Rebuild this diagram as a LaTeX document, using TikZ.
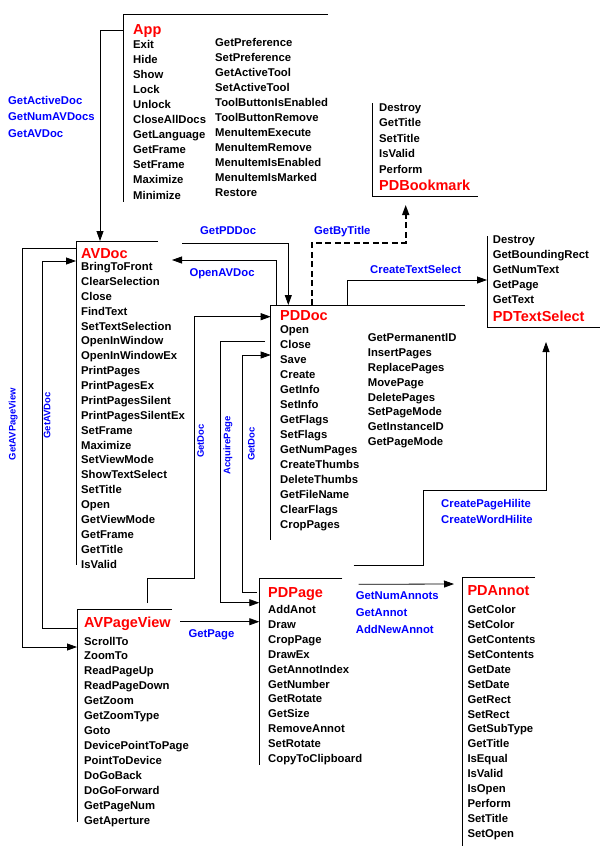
\documentclass[tikz,border=0pt]{standalone}
\usepackage{fontspec}
\setmainfont{Liberation Sans}
\usetikzlibrary{arrows.meta,positioning}

\begin{document}
\begin{tikzpicture}[
    x=1pt, y=-1pt,
    cls/.style={inner sep=0pt, outer sep=0pt, anchor=north west},
    title/.style={anchor=base west, inner sep=0pt, text=red, font=\fontsize{14.5}{16}\selectfont\bfseries},
    item/.style={anchor=base west, inner sep=0pt, font=\fontsize{11.3}{15}\selectfont\bfseries},
    call/.style={anchor=base west, inner sep=0pt, text=blue, font=\fontsize{11.3}{15}\selectfont\bfseries},
    vcall/.style={rotate=90, inner sep=0pt, text=blue, font=\fontsize{9.5}{11}\selectfont\bfseries},
    wire/.style={line width=0.8pt},
    arrow/.style={wire, -{Triangle[length=10pt,width=7pt]}},
    weak/.style={arrow, line width=1.6pt, dash pattern=on 6pt off 3.5pt}
  ]
    \path[use as bounding box] (0,0) rectangle (600,846);

    % class frames
    \node[cls, minimum width=205pt, minimum height=188pt] (app) at (123,14) {};
    \node[cls, minimum width=106pt, minimum height=93pt] (pdbookmark) at (372,103) {};
    \node[cls, minimum width=82pt, minimum height=324pt] (avdoc) at (76,241) {};
    \node[cls, minimum width=113pt, minimum height=91pt] (pdtextselect) at (487,236) {};
    \node[cls, minimum width=194pt, minimum height=235pt] (pddoc) at (270.7,305) {};
    \node[cls, minimum width=95pt, minimum height=213pt] (avpageview) at (77,609) {};
    \node[cls, minimum width=83pt, minimum height=187pt] (pdpage) at (259.3,578) {};
    \node[cls, minimum width=73pt, minimum height=269pt] (pdannot) at (462,577) {};

    \draw[wire] (app.north east) -- (app.north west) -- (app.south west);
    \draw[wire] (pdbookmark.north west) -- (pdbookmark.south west) -- (pdbookmark.south east);
    \draw[wire] (avdoc.north east) -- (avdoc.north west) -- (avdoc.south west);
    \draw[wire] (pdtextselect.north west) -- (pdtextselect.south west) -- (pdtextselect.south east);
    \draw[wire] (pddoc.north east) -- (pddoc.north west) -- (pddoc.south west);
    \draw[wire] (avpageview.north east) -- (avpageview.north west) -- (avpageview.south west);
    \draw[wire] (pdpage.north east) -- (pdpage.north west) -- (pdpage.south west);
    \draw[wire] (pdannot.north east) -- (pdannot.north west) -- (pdannot.south west);

    % class names
    \node[title] (app-name) at (133,34) {App};
    \node[title] (pdbookmark-name) at (379,190.5) {PDBookmark};
    \node[title] (avdoc-name) at (81,258.8) {AVDoc};
    \node[title] (pdtextselect-name) at (492.7,321.5) {PDTextSelect};
    \node[title] (pddoc-name) at (280,320.5) {PDDoc};
    \node[title] (avpageview-name) at (84,627.2) {AVPageView};
    \node[title] (pdpage-name) at (268,597.2) {PDPage};
    \node[title] (pdannot-name) at (467.3,595.5) {PDAnnot};

    % methods
    \foreach \m [count=\i] in {Exit,Hide,Show,Lock,Unlock,CloseAllDocs,GetLanguage,GetFrame,SetFrame,Maximize,Minimize}
      \node[item] (app-a\i) at (133,{48.5+(\i-1)*15.05}) {\m};
    \foreach \m [count=\i] in {GetPreference,SetPreference,GetActiveTool,SetActiveTool,ToolButtonIsEnabled,ToolButtonRemove,MenuItemExecute,MenuItemRemove,MenuItemIsEnabled,MenuItemIsMarked,Restore}
      \node[item] (app-b\i) at (215,{46+(\i-1)*15}) {\m};
    \foreach \m [count=\i] in {Destroy,GetTitle,SetTitle,IsValid,Perform}
      \node[item] (pdbookmark-\i) at (379,{111+(\i-1)*15.6}) {\m};
    \foreach \m [count=\i] in {Destroy,GetBoundingRect,GetNumText,GetPage,GetText}
      \node[item] (pdtextselect-\i) at (492.7,{243.3+(\i-1)*15}) {\m};
    \foreach \m [count=\i] in {BringToFront,ClearSelection,Close,FindText,SetTextSelection,OpenInWindow,OpenInWindowEx,PrintPages,PrintPagesEx,PrintPagesSilent,PrintPagesSilentEx,SetFrame,Maximize,SetViewMode,ShowTextSelect,SetTitle,Open,GetViewMode,GetFrame,GetTitle,IsValid}
      \node[item] (avdoc-\i) at (81,{270.6+(\i-1)*14.87}) {\m};
    \foreach \m [count=\i] in {Open,Close,Save,Create,GetInfo,SetInfo,GetFlags,SetFlags,GetNumPages,CreateThumbs,DeleteThumbs,GetFileName,ClearFlags,CropPages}
      \node[item] (pddoc-a\i) at (280,{333.3+(\i-1)*15.03}) {\m};
    \foreach \m [count=\i] in {GetPermanentID,InsertPages,ReplacePages,MovePage,DeletePages,SetPageMode,GetInstanceID,GetPageMode}
      \node[item] (pddoc-b\i) at (367.7,{341.6+(\i-1)*14.85}) {\m};
    \foreach \m [count=\i] in {ScrollTo,ZoomTo,ReadPageUp,ReadPageDown,GetZoom,GetZoomType,Goto,DevicePointToPage,PointToDevice,DoGoBack,DoGoForward,GetPageNum,GetAperture}
      \node[item] (avpageview-\i) at (84,{645+(\i-1)*14.94}) {\m};
    \foreach \m [count=\i] in {AddAnot,Draw,CropPage,DrawEx,GetAnnotIndex,GetNumber,GetRotate,GetSize,RemoveAnnot,SetRotate,CopyToClipboard}
      \node[item] (pdpage-\i) at (268,{613.3+(\i-1)*14.94}) {\m};
    \foreach \m [count=\i] in {GetColor,SetColor,GetContents,SetContents,GetDate,SetDate,GetRect,SetRect,GetSubType,GetTitle,IsEqual,IsValid,IsOpen,Perform,SetTitle,SetOpen}
      \node[item] (pdannot-\i) at (467.3,{613.3+(\i-1)*14.96}) {\m};

    % calls between classes
    \draw[arrow] ([yshift=-16pt]app.north west) -| ([xshift=24pt]avdoc.north west);
    \draw[arrow] ([yshift=-7pt]avdoc.north west) -- ++(-54,0) |- ([yshift=-38pt]avpageview.north west);
    \draw[arrow] ([yshift=-19pt]avpageview.north west) -- ++(-35,0) |- ([yshift=-20pt]avdoc.north west);
    \draw[arrow] ([xshift=24pt,yshift=-2pt]avdoc.north east) -| ([xshift=17.6pt]pddoc.north west);
    \draw[arrow] ([xshift=5.3pt]pddoc.north west) |- ([xshift=14pt,yshift=-19pt]avdoc.north east);
    \draw[weak] ([xshift=41pt]pddoc.north west) -- ++(0,-62.3) -| ([xshift=33.7pt,yshift=-9pt]pdbookmark.south west);
    \draw[arrow] ([xshift=77pt]pddoc.north west) |- ([yshift=-44pt]pdtextselect.north west);
    \draw[arrow] ([xshift=70pt,yshift=6pt]avpageview.north west) -- ++(0,-25) -- ++(47.3,0) |- ([yshift=-11.7pt]pddoc.north west);
    \draw[arrow] ([xshift=-5.7pt,yshift=-36.7pt]pddoc.north west) -- ++(-44.3,0) |- ([yshift=-24.7pt]pdpage.north west);
    \draw[arrow] ([xshift=-2.6pt,yshift=-14.3pt]pdpage.north west) -- ++(-14.2,0) |- ([yshift=-50pt]pddoc.north west);
    \draw[arrow] ([xshift=8pt,yshift=-12.7pt]avpageview.north east) -- ([yshift=-43.7pt]pdpage.north west);
    \draw[arrow] ([xshift=16.3pt,yshift=-6.3pt]pdpage.north east) -- ([xshift=-8pt,yshift=-7pt]pdannot.north west);
    \draw[arrow] ([xshift=11.3pt,yshift=13pt]pdpage.north east) -- ++(70,0) -- ++(0,-75) -| ([xshift=59pt,yshift=-15pt]pdtextselect.south west);

    % call names
    \node[call] (c-activedoc) at (8,104) {GetActiveDoc};
    \node[call] (c-numavdocs) at (8,120.7) {GetNumAVDocs};
    \node[call] (c-getavdoc) at (8,137.3) {GetAVDoc};
    \node[call] (c-getpddoc) at (200,234) {GetPDDoc};
    \node[call] (c-openavdoc) at (189.3,276.7) {OpenAVDoc};
    \node[call] (c-bytitle) at (314,234) {GetByTitle};
    \node[call] (c-textselect) at (370,273.3) {CreateTextSelect};
    \node[call] (c-pagehilite) at (441,507.3) {CreatePageHilite};
    \node[call] (c-wordhilite) at (441,523) {CreateWordHilite};
    \node[call] (c-getpage) at (188.3,637.3) {GetPage};
    \node[call] (c-numannots) at (355.7,599.7) {GetNumAnnots};
    \node[call] (c-getannot) at (355.7,616.7) {GetAnnot};
    \node[call] (c-newannot) at (355.7,633.7) {AddNewAnnot};
    \node[vcall] (c-avpageview) at (13.3,424) {GetAVPageView};
    \node[vcall] (c-avdoc) at (47.2,415.5) {GetAVDoc};
    \node[vcall] (c-viewdoc) at (200.5,441) {GetDoc};
    \node[vcall] (c-acquire) at (228,445.5) {AcquirePage};
    \node[vcall] (c-pagedoc) at (251.3,444) {GetDoc};
  \end{tikzpicture}
\end{document}
